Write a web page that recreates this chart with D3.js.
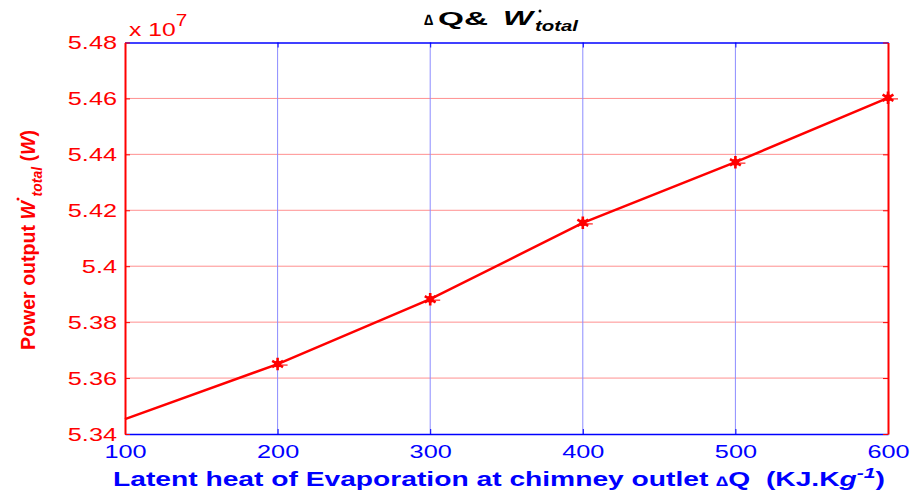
<!DOCTYPE html>
<html>
<head>
<meta charset="utf-8">
<script src="https://cdn.jsdelivr.net/npm/d3@7"></script>
<style>
  body { margin: 0; background: #fff; }
  svg { display: block; font-family: "Liberation Sans", Arial, sans-serif; }
</style>
</head>
<body>
<svg id="chart" width="917" height="495"></svg>
<script>
// Latent heat of evaporation (KJ/kg) vs total power output (x 10^7 W)
const latentHeat = [100, 200, 300, 400, 500, 600];
const powerOutput = [5.3453, 5.3650, 5.3882, 5.4155, 5.4372, 5.4602];
const markedPoints = [200, 300, 400, 500, 600];
const xTicks = [100, 200, 300, 400, 500, 600];
const yTicks = [5.34, 5.36, 5.38, 5.40, 5.42, 5.44, 5.46, 5.48];
const yTickLabels = ["5.34", "5.36", "5.38", "5.4", "5.42", "5.44", "5.46", "5.48"];

const svg = d3.select("#chart");
const m = { left: 125, right: 888, top: 42.5, bottom: 434 };

const x = d3.scaleLinear().domain([100, 600]).range([m.left, m.right]);
const y = d3.scaleLinear().domain([5.34, 5.48]).range([m.bottom, m.top]);

const red = "#ff0000", blue = "#0000ff";

// widen (or narrow) rendered text horizontally by a factor
function stretch(sel, factor) {
  sel.each(function () {
    const len = this.getComputedTextLength();
    d3.select(this).attr("textLength", len * factor).attr("lengthAdjust", "spacingAndGlyphs");
  });
}

// grid lines
svg.append("g").selectAll("line").data(yTicks.slice(1, -1)).join("line")
  .attr("x1", m.left).attr("x2", m.right)
  .attr("y1", d => y(d)).attr("y2", d => y(d))
  .attr("stroke", "#ff9090").attr("stroke-width", 1);
svg.append("g").selectAll("line").data(xTicks.slice(1, -1)).join("line")
  .attr("y1", m.top).attr("y2", m.bottom)
  .attr("x1", d => x(d)).attr("x2", d => x(d))
  .attr("stroke", "#8c8cff").attr("stroke-width", 1);

// axes
const bottomAxis = d3.axisBottom(x).tickValues(xTicks).tickSizeInner(-5).tickSizeOuter(0).tickPadding(9);
const gx = svg.append("g").attr("transform", `translate(0,${m.bottom})`).call(bottomAxis);
gx.select(".domain").attr("stroke", blue).attr("stroke-width", 1.5);
gx.selectAll(".tick line").attr("stroke", blue);
gx.selectAll(".tick text").attr("fill", blue).attr("font-size", 19).attr("dy", "0.8em");
stretch(gx.selectAll(".tick text"), 1.33);

const topAxis = d3.axisTop(x).tickValues(xTicks).tickSizeInner(-5).tickSizeOuter(0).tickFormat("");
const gt = svg.append("g").attr("transform", `translate(0,${m.top})`).call(topAxis);
gt.select(".domain").attr("stroke", blue).attr("stroke-width", 1.5);
gt.selectAll(".tick line").attr("stroke", blue);

const leftAxis = d3.axisLeft(y).tickValues(yTicks).tickSizeInner(-5).tickSizeOuter(0).tickPadding(8)
  .tickFormat((d, i) => yTickLabels[i]);
const gy = svg.append("g").attr("transform", `translate(${m.left},0)`).call(leftAxis);
gy.select(".domain").attr("stroke", red).attr("stroke-width", 2);
gy.selectAll(".tick line").attr("stroke", red);
gy.selectAll(".tick text").attr("fill", red).attr("font-size", 19);
stretch(gy.selectAll(".tick text"), 1.33);

const rightAxis = d3.axisRight(y).tickValues(yTicks).tickSizeInner(-5).tickSizeOuter(0).tickFormat("");
const gr = svg.append("g").attr("transform", `translate(${m.right},0)`).call(rightAxis);
gr.select(".domain").attr("stroke", red).attr("stroke-width", 2);
gr.selectAll(".tick line").attr("stroke", red);

// exponent label
const ex = svg.append("text").attr("x", 129).attr("y", 36).attr("fill", red).attr("font-size", 19);
ex.append("tspan").text("x 10");
ex.append("tspan").attr("dy", -10).attr("font-size", 16).text("7");
stretch(ex, 1.3);

// data line
const pts = latentHeat.map((v, i) => [v, powerOutput[i]]);
svg.append("path").datum(pts)
  .attr("fill", "none").attr("stroke", red).attr("stroke-width", 2.5)
  .attr("d", d3.line().x(d => x(d[0])).y(d => y(d[1])));

// markers
const marked = pts.filter(p => markedPoints.includes(p[0]));
const sym = d3.symbol().type(d3.symbolAsterisk).size(110);
const mk = svg.append("g").selectAll("g").data(marked).join("g")
  .attr("transform", d => `translate(${x(d[0])},${y(d[1])})`);
mk.append("path").attr("d", sym).attr("fill", "none").attr("stroke", red).attr("stroke-width", 2.6);
mk.append("circle").attr("r", 3.5).attr("fill", red);
mk.append("line").attr("x1", 0).attr("x2", 10).attr("y1", 1).attr("y2", 1)
  .attr("stroke", red).attr("stroke-width", 1.5).attr("opacity", 0.7);

// title: ΔQ & W-dot total
const t = svg.append("text").attr("y", 25)
  .attr("font-size", 18).attr("font-weight", "bold").attr("fill", "#000");
t.append("tspan").attr("x", 424).attr("font-size", 15).text("\u2206");
t.append("tspan").attr("x", 438).attr("textLength", 50).attr("lengthAdjust", "spacingAndGlyphs").text("Q&");
t.append("tspan").attr("x", 503).attr("font-style", "italic").attr("font-size", 20)
  .attr("textLength", 30).attr("lengthAdjust", "spacingAndGlyphs").text("W");
t.append("tspan").attr("x", 535).attr("dy", 6).attr("font-style", "italic").attr("font-size", 15)
  .attr("textLength", 43).attr("lengthAdjust", "spacingAndGlyphs").text("total");
svg.append("circle").attr("cx", 540).attr("cy", 11).attr("r", 1.5).attr("fill", "#000");

// x-axis label
const xl = svg.append("text").attr("x", 113).attr("y", 486).style("white-space", "pre")
  .attr("font-size", 20).attr("font-weight", "bold").attr("fill", blue);
xl.append("tspan").text("Latent heat of Evaporation at chimney outlet ");
xl.append("tspan").attr("font-size", 14).text("\u2206");
xl.append("tspan").text("Q  (KJ.K");
xl.append("tspan").attr("font-style", "italic").text("g");
xl.append("tspan").attr("dy", -8).attr("font-size", 15).attr("font-style", "italic").text("-1");
xl.append("tspan").attr("dy", 8).text(")");
xl.attr("textLength", 772).attr("lengthAdjust", "spacingAndGlyphs");

// y-axis label (rotated), with the dot over W
const ylg = svg.append("g").attr("transform", "translate(35,350) rotate(-90)");
const yl = ylg.append("text")
  .attr("font-size", 21).attr("font-weight", "bold").attr("fill", red);
yl.append("tspan").text("Power output ");
yl.append("tspan").attr("font-style", "italic").text("W");
yl.append("tspan").attr("dy", 7).attr("dx", 5).attr("font-size", 15).attr("font-style", "italic").text("total");
yl.append("tspan").attr("dy", -7).text(" (");
yl.append("tspan").attr("font-style", "italic").text("W");
yl.append("tspan").text(")");
yl.attr("textLength", 220).attr("lengthAdjust", "spacingAndGlyphs");
const wEnd = yl.node().getEndPositionOfChar(13);
ylg.append("circle").attr("cx", wEnd.x + 2).attr("cy", -17).attr("r", 1.5).attr("fill", red);
</script>
</body>
</html>
